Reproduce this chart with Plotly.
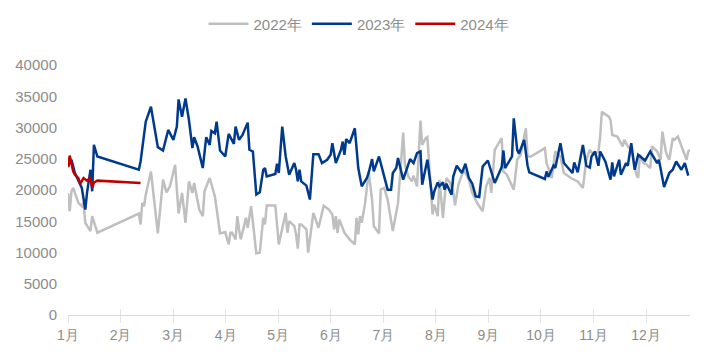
import plotly.graph_objects as go

# ---- data (x = day offset from 1 Jan) ----
month_labels = ["1月", "2月", "3月", "4月", "5月", "6月", "7月", "8月", "9月", "10月", "11月", "12月"]

days2022 = [0,1,2,3,6,8,9,10,13,14, 17,41,42,43,44,45,48,52,55,57,
            59,62,64,66,68,70,72,73,76,78, 79,82,85,88,91,93,94,95,97,98,
            99,100,103,104,106,108,109,111,113,114, 115,120,122,126,127,128,131,132,133,134,
            135,138,139,142,145,148,151,153,154,155, 156,157,160,163,166,167,168,169,170,172,
            174,176,177,180,181,183,185,188,189,191, 194,195,197,199,200,202,204,205,207,208,
            211,212,214,215,217,219,221,223,224,226, 229,232,234,237,240,242,244,245,247,251,
            252,254,258,260,262,265,266,268,276,277, 280,282,285,287,291,295,298,300,302,304,
            307,308,309,313,314,315,318,321,322,324, 326,329,330,331,333,335,337,338,341,343,
            344,346,347,348,350,351,353,355,357,358, 359,360]
vals2022 = [19530,16610,19790,20330,17940,17400,17940,14760,13420,15810,
            13160,16240,14490,17940,17400,19260,22970,13050,21650,19630,
            20590,24040,16240,19530,14760,21380,19530,21120,16875,15810,
            19790,21920,18990,13050,13260,11300,13160,13160,12100,15810,
            13690,12100,15550,13960,17400,12370,9870,9980,15550,14490,
            17510,17510,11300,16350,13160,15020,14220,12900,10610,14490,
            14490,13690,9980,16350,13960,17510,16875,16080,13690,15810,
            13160,15280,13160,12100,11300,15550,12900,15810,14760,17940,
            22970,18470,14220,13050,20060,20330,18470,13420,14760,17940,
            29180,24040,22180,21380,22290,20590,31090,27220,28290,28450,
            16080,17670,15810,21650,15550,21920,21220,19630,17560,20860,
            23240,21650,19530,17830,16610,20590,21920,19530,26430,28290,
            22970,22450,20060,24840,25630,29880,25360,25360,26700,24310,
            21920,26160,25360,22720,21920,21380,20330,24840,26430,25630,
            26160,28550,32520,31730,31200,28810,28550,26970,28020,26970,
            26430,22450,21920,25630,24310,24040,23510,26970,26160,24840,
            29340,26160,25360,24840,28290,28020,28550,26970,25630,24840,
            26160,26430]

days2023 = [0,2,4,6,8,10,11,13,14,15, 17,41,42,45,48,52,55,58,61,63,
            64,66,68,70,72,73,75,78,80,82, 83,85,86,88,91,93,96,97,99,101,
            104,105,107,109,111,113,114,115,120,121, 122,124,126,128,131,132,133,134,135,138,
            140,142,145,147,150,152,153,155,158,159, 160,161,163,166,168,170,173,174,176,177,
            178,180,183,185,187,188,190,191,194,198, 200,202,204,205,208,211,212,214,215,217,
            218,219,222,223,225,228,230,232,234,236, 238,240,243,247,251,252,253,257,258,260,
            261,264,266,267,276,277,278,281,282,285, 287,292,293,295,298,300,302,303,305,307,
            308,311,314,315,316,319,320,323,324,326, 328,330,334,337,341,342,345,348,350,352,
            355,357,359]
vals2023 = [23770,24840,22720,21380,20330,16875,19530,23240,19790,27220,
            25360,23240,24560,30930,33320,26860,26320,29610,28020,30140,
            34500,31730,34660,31200,26700,28450,26970,23510,28450,27220,
            29450,29080,30930,26320,25360,28970,27380,30140,28020,28810,
            30780,26430,26160,19260,19630,23240,23510,22180,22560,24200,
            22720,30140,25360,22450,24310,23240,21380,23240,21380,20700,
            18470,25740,25740,24310,24840,25630,27490,24310,26430,27750,
            25630,28130,27490,29880,23510,20590,21920,22720,24950,22970,
            23770,25360,22180,20060,20060,22720,23510,25110,21650,24950,
            24310,25900,26160,20860,24840,18470,19790,21220,20590,21220,
            20060,21010,19260,22180,23880,22720,24200,21920,21010,18990,
            18890,23770,24720,21120,23670,26320,23510,25360,31470,26430,
            25790,28020,23880,22820,21760,22970,22080,23880,23510,27490,
            24310,22720,24410,22820,27220,23880,23600,25360,26160,23880,
            26160,24560,21650,24410,22180,24840,22450,24310,23880,27490,
            23240,25630,24720,26160,24310,24840,20490,22720,23240,24560,
            23240,24310,22290]

days2024 = [0, 1, 3, 4, 6, 7, 9, 11, 13, 14, 15, 17, 42]
vals2024 = [23640, 25500, 23000, 22450, 21900, 20970, 21920, 21500, 21900, 20330, 21200, 21500, 21120]

series = [
    ("2022年", days2022, vals2022, "#BFBFBF"),
    ("2023年", days2023, vals2023, "#003A8C"),
    ("2024年", days2024, vals2024, "#C00000"),
]

fig = go.Figure()
for name, xs, ys, color in series:
    fig.add_trace(go.Scatter(x=xs, y=ys, mode="lines", name=name,
                             line=dict(color=color, width=2.5)))
# empty helper trace so the overlay axis (inner half of the crossing ticks) is drawn
fig.add_trace(go.Scatter(x=[], y=[], xaxis="x2", showlegend=False, hoverinfo="skip"))

# The page body keeps its default 8px margin, so the figure is sized to fit inside it.
W, H = 695, 344
M_L, M_R, M_T, M_B = 60, 13, 57, 37
plot_h = H - M_T - M_B
tick_step = 365 / 12
tickvals = [k * tick_step for k in range(12)]
fig.update_layout(
    width=W, height=H,
    margin=dict(l=M_L, r=M_R, t=M_T, b=M_B, autoexpand=False),
    plot_bgcolor="white", paper_bgcolor="white",
    font=dict(family="Liberation Sans, Arial, sans-serif", size=14, color="#8c8c8c"),
    legend=dict(orientation="h", xref="container", yref="paper",
                x=351 / W, xanchor="center", y=1 + (M_T - 16) / plot_h, yanchor="middle",
                font=dict(size=15, color="#8c8c8c"), itemwidth=40,
                traceorder="normal"),
    showlegend=True,
    xaxis2=dict(overlaying="x", anchor="y", side="bottom", range=[0, 360],
                tickmode="array", tickvals=tickvals, showticklabels=False,
                ticks="inside", ticklen=6, tickcolor="#e3e3e3",
                showgrid=False, zeroline=False, showline=False, automargin=False),
)
fig.update_xaxes(selector=dict(anchor="y", overlaying=None))
fig.layout.xaxis.update(range=[0, 360], tickmode="array", automargin=False,
                        tickvals=tickvals, ticktext=month_labels,
                        showgrid=False, zeroline=False, showline=True, linecolor="#d9d9d9",
                        linewidth=1, ticks="outside", ticklen=7, tickcolor="#e3e3e3",
                        tickfont=dict(size=14, color="#8c8c8c"))
fig.update_yaxes(range=[0, 40000], dtick=5000, tick0=0, tickformat="d", automargin=False,
                 showgrid=False, zeroline=False, showline=False,
                 ticklabelstandoff=10,
                 tickfont=dict(size=15, color="#8c8c8c"))

fig.write_html("out.html", config={"displayModeBar": False})
